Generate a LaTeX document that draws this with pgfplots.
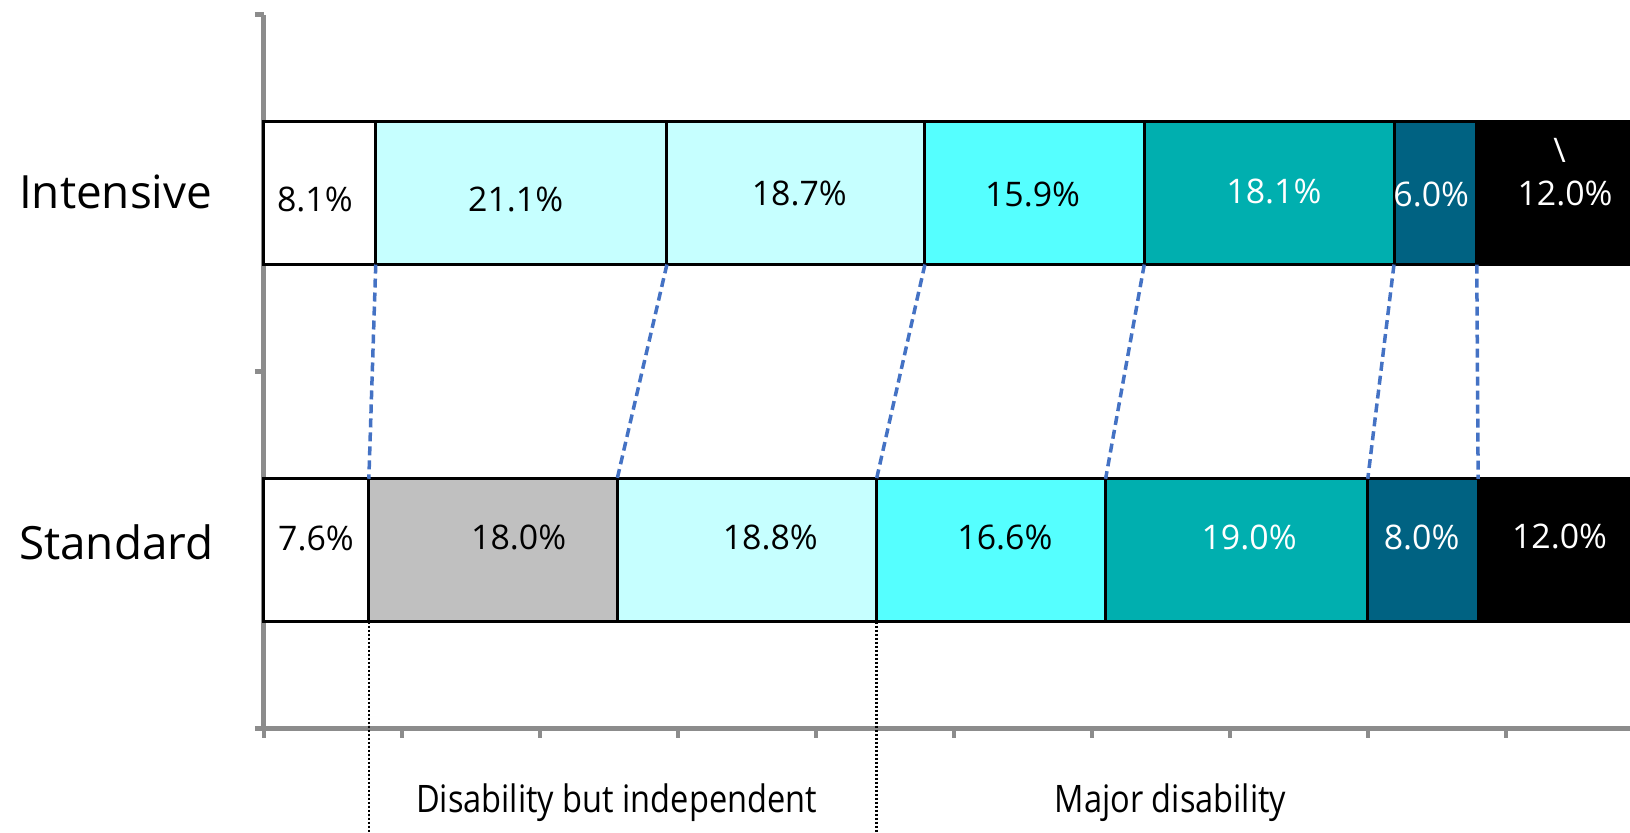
\documentclass[border=0pt]{standalone}
\usepackage{pgfplots}
\pgfplotsset{compat=1.18}
\usepackage{fontspec}
\setmainfont{Open Sans}
\newfontfamily\narrowfont[FakeStretch=0.86]{Open Sans}
\definecolor{lcyan}{HTML}{C6FFFF}
\definecolor{mcyan}{HTML}{55FFFF}
\definecolor{teal2}{HTML}{00AFAF}
\definecolor{dblue}{HTML}{006282}
\definecolor{axgray}{HTML}{8C8C8C}
\definecolor{dashblue}{HTML}{4472C4}
\definecolor{lgray}{HTML}{C0C0C0}
\begin{document}
\begin{tikzpicture}
\useasboundingbox (-264bp,-104.3bp) rectangle (1366bp,728.7bp);
\clip (-264bp,-104.3bp) rectangle (1366bp,728.7bp);
\begin{axis}[
  at={(0,0)}, anchor=south west,
  scale only axis, width=1366bp, height=714.1bp,
  xmin=0, xmax=99, ymin=0, ymax=2,
  xbar stacked, bar width=0.4,
  axis x line=bottom, axis y line=left,
  axis line style={-, draw=axgray, line width=5bp},
  every outer x axis line/.append style={line width=5bp, draw=axgray},
  every outer y axis line/.append style={line width=5bp, draw=axgray},
  xtick={0,10,...,90}, ytick={0,1,2}, xticklabels={}, yticklabels={},
  tick align=outside, major tick length=9bp,
  tick style={draw=axgray, line width=4.5bp},
  clip=false,
  every axis plot/.append style={draw=black, line width=3bp},
]
\addplot[fill=white] coordinates {(8.1,1.5) (7.6,0.5)};
\addplot[fill=lcyan] coordinates {(21.1,1.5) (0,0.5)};
\addplot[fill=lgray] coordinates {(0,1.5) (18.0,0.5)};
\addplot[fill=lcyan] coordinates {(18.7,1.5) (18.8,0.5)};
\addplot[fill=mcyan] coordinates {(15.9,1.5) (16.6,0.5)};
\addplot[fill=teal2] coordinates {(18.1,1.5) (19.0,0.5)};
\addplot[fill=dblue] coordinates {(6.0,1.5) (8.0,0.5)};
\addplot[fill=black] coordinates {(12.0,1.5) (12.0,0.5)};
\end{axis}
\begin{axis}[
  at={(0,0)}, anchor=south west,
  scale only axis, width=1366bp, height=714.1bp,
  xmin=0, xmax=99, ymin=0, ymax=2,
  hide axis, clip=false,
]
\pgfplotsset{dsh/.style={draw=dashblue, line width=3.5bp, dash pattern=on 9bp off 5bp}}
\addplot[dsh] coordinates {(8.1,1.3) (7.6,0.7)};
\addplot[dsh] coordinates {(29.2,1.3) (25.6,0.7)};
\addplot[dsh] coordinates {(47.9,1.3) (44.4,0.7)};
\addplot[dsh] coordinates {(63.8,1.3) (61.0,0.7)};
\addplot[dsh] coordinates {(81.9,1.3) (80.0,0.7)};
\addplot[dsh] coordinates {(87.9,1.3) (88.0,0.7)};
\addplot[black, line width=2.6bp, dash pattern=on 2bp off 2bp] coordinates {(7.6,0.3) (7.6,-0.3)};
\addplot[black, line width=2.6bp, dash pattern=on 2bp off 2bp] coordinates {(44.4,0.3) (44.4,-0.3)};
\tikzset{lab/.style={font=\fontsize{34}{40}\selectfont, inner sep=0pt}}
% Intensive
\node[lab] at (axis cs:3.69,1.482) {8.1\%};
\node[lab] at (axis cs:18.24,1.482) {21.1\%};
\node[lab] at (axis cs:38.8,1.50) {18.7\%};
\node[lab] at (axis cs:55.7,1.497) {15.9\%};
\node[lab, white] at (axis cs:73.2,1.505) {18.1\%};
\node[lab, white] at (axis cs:84.6,1.495) {6.0\%};
\node[lab, white] at (axis cs:94.3,1.50) {12.0\%};
\node[lab, white] at (axis cs:93.9,1.62) {\textbackslash};
% Standard
\node[lab] at (axis cs:3.77,0.533) {7.6\%};
\node[lab] at (axis cs:18.46,0.536) {18.0\%};
\node[lab] at (axis cs:36.7,0.536) {18.8\%};
\node[lab] at (axis cs:53.7,0.536) {16.6\%};
\node[lab, white] at (axis cs:71.4,0.536) {19.0\%};
\node[lab, white] at (axis cs:83.9,0.536) {8.0\%};
\node[lab, white] at (axis cs:93.9,0.538) {12.0\%};
% categories
\node[anchor=west, inner sep=0pt, font=\fontsize{46}{54}\selectfont] at (axis cs:-17.76,1.503) {Intensive};
\node[anchor=west, inner sep=0pt, font=\fontsize{46}{54}\selectfont] at (axis cs:-17.76,0.521) {Standard};
% group labels
\node[anchor=base, inner sep=0pt, font=\narrowfont\fontsize{38}{45}\selectfont] at (axis cs:25.55,-0.235) {Disability but independent};
\node[anchor=base, inner sep=0pt, font=\narrowfont\fontsize{38}{45}\selectfont] at (axis cs:65.7,-0.235) {Major disability};
\end{axis}
\end{tikzpicture}
\end{document}
